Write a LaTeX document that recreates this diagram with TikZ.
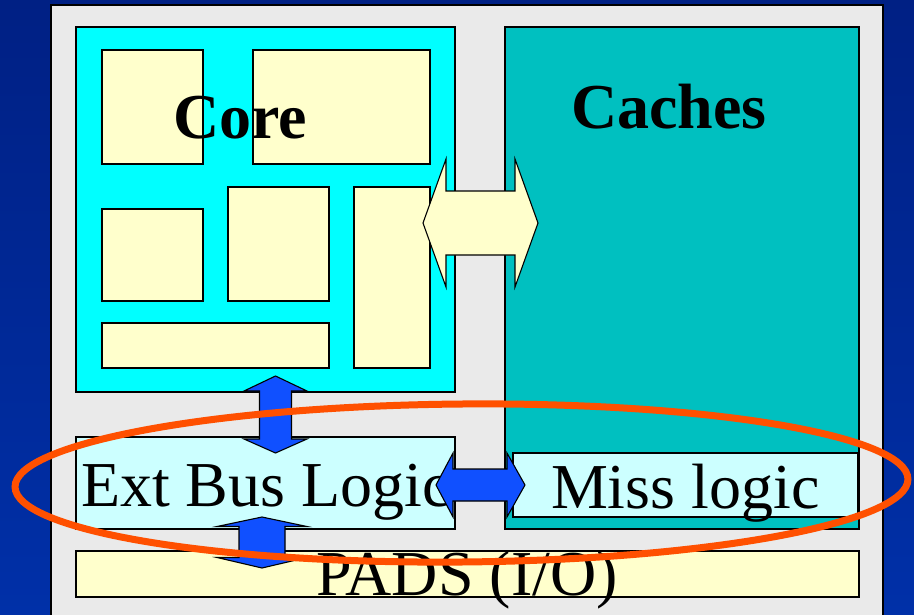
\documentclass[tikz,border=0pt]{standalone}
\usepackage{fontspec}
\setmainfont{Liberation Serif}
\usetikzlibrary{shapes.geometric}

\definecolor{bgtop}{RGB}{0,32,132}
\definecolor{bgbot}{RGB}{0,48,168}
\definecolor{panel}{RGB}{234,234,234}
\definecolor{corecyan}{RGB}{0,255,255}
\definecolor{cachecyan}{RGB}{0,192,192}
\definecolor{paleyellow}{RGB}{255,255,204}
\definecolor{palecyan}{RGB}{204,255,255}
\definecolor{busblue}{RGB}{16,80,255}
\definecolor{ringorange}{RGB}{255,80,0}

\tikzset{
  block/.style={draw=black, line width=1.1pt, inner sep=0pt, outer sep=0pt, anchor=north west},
  bigtext/.style={inner sep=0pt, outer sep=0pt, anchor=base west, font=\fontsize{64}{64}\selectfont},
  boldtext/.style={bigtext, font=\fontsize{64}{64}\selectfont\bfseries},
  blockarrow/.style={draw=black, line width=1.1pt, line join=miter},
}

% horizontal block double arrow: left tip, head base, head base, right tip, centre y, shaft half, head half
\newcommand{\hdblarrow}[8]{%
  \draw[blockarrow, fill=#8] (#1,#5) -- (#2,#5-#7) -- (#2,#5-#6) -- (#3,#5-#6) -- (#3,#5-#7)
    -- (#4,#5) -- (#3,#5+#7) -- (#3,#5+#6) -- (#2,#5+#6) -- (#2,#5+#7) -- cycle;}
% vertical block double arrow: top tip, head base, head base, bottom tip, centre x, shaft half, head half
\newcommand{\vdblarrow}[8]{%
  \draw[blockarrow, fill=#8] (#5,#1) -- (#5-#7,#2) -- (#5-#6,#2) -- (#5-#6,#3) -- (#5-#7,#3)
    -- (#5,#4) -- (#5+#7,#3) -- (#5+#6,#3) -- (#5+#6,#2) -- (#5+#7,#2) -- cycle;}

\begin{document}
\begin{tikzpicture}[x=1pt, y=-1pt]
  % background and clipping frame
  \useasboundingbox (0,0) rectangle (914,614);
  \clip (0,0) rectangle (914,614);
  \shade[top color=bgtop, bottom color=bgbot] (0,0) rectangle (914,614);

  % chip die
  \draw[fill=panel, line width=1.5pt] (51,5) rectangle (883,630);

  % core and caches
  \node[block, fill=corecyan, minimum width=379pt, minimum height=365pt] (core) at (76,27) {};
  \node[block, fill=cachecyan, minimum width=354pt, minimum height=502pt] (caches) at (505,27) {};

  % functional units inside the core
  \node[block, fill=paleyellow, minimum width=101pt, minimum height=114pt] (u1) at (102,50) {};
  \node[block, fill=paleyellow, minimum width=177pt, minimum height=114pt] (u2) at (253,50) {};
  \node[block, fill=paleyellow, minimum width=101pt, minimum height=92pt]  (u3) at (102,209) {};
  \node[block, fill=paleyellow, minimum width=101pt, minimum height=114pt] (u4) at (228,187) {};
  \node[block, fill=paleyellow, minimum width=76pt,  minimum height=181pt] (u5) at (354,187) {};
  \node[block, fill=paleyellow, minimum width=227pt, minimum height=45pt]  (u6) at (102,323) {};

  \node[boldtext] (corelabel) at (173,138) {Core};
  \node[boldtext] (cachelabel) at (571,128) {Caches};

  % bus logic, miss logic and pads
  \node[block, fill=palecyan, minimum width=379pt, minimum height=92pt] (extbus) at (76,437) {};
  \node[block, fill=palecyan, minimum width=345pt, minimum height=64pt] (miss) at (513,453) {};
  \node[block, fill=paleyellow, minimum width=783pt, minimum height=46pt] (pads) at (76,551) {};

  \node[bigtext] (extlabel) at (81,506) {Ext Bus Logic};
  \node[bigtext] (misslabel) at (551,508) {Miss logic};
  \node[bigtext] (padslabel) at (316,595) {PADS (I/O)};

  % core <-> caches
  \hdblarrow{423}{446}{515}{538}{223}{32}{64}{paleyellow}
  % core <-> ext bus logic
  \vdblarrow{376}{391}{439}{453}{275.5}{16}{31.5}{busblue}
  % ext bus logic <-> miss logic
  \hdblarrow{436}{453}{507}{525}{485}{16}{32}{busblue}
  % ext bus logic <-> pads
  \vdblarrow{517}{526.5}{557.5}{568}{262}{23}{45}{busblue}

  % highlight ring
  \node[draw=ringorange, line width=7pt, ellipse, minimum width=893pt, minimum height=158pt,
        inner sep=0pt, rotate=0.5] (ring) at (461.5,483) {};
\end{tikzpicture}
\end{document}
